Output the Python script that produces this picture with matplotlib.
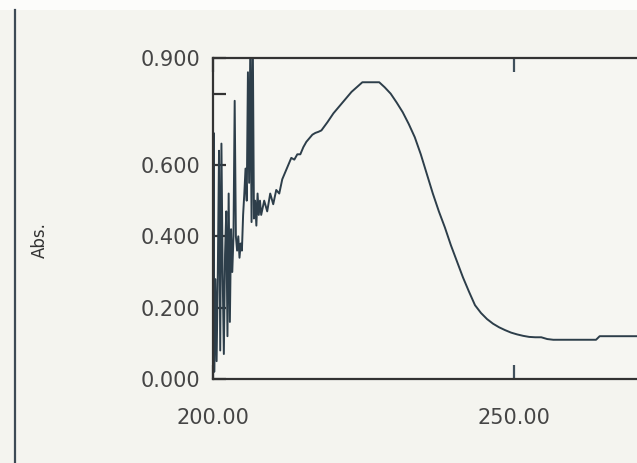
import matplotlib
matplotlib.use("Agg")
import matplotlib.pyplot as plt
from matplotlib.lines import Line2D
from matplotlib.patches import Rectangle

# Wavelength (nm) and absorbance
wavelength = [
    200.0, 200.1, 200.2, 200.4, 200.6, 200.8, 201.0, 201.2, 201.4, 201.6,
    201.8, 202.0, 202.2, 202.4, 202.6, 202.8, 203.0, 203.2, 203.4, 203.6,
    203.8, 204.0, 204.2, 204.4, 204.6, 204.8, 205.0, 205.2, 205.4, 205.6,
    205.8, 206.0, 206.2, 206.4, 206.6, 206.8, 207.0, 207.2, 207.4, 207.6,
    207.8, 208.0, 208.5, 209.0, 209.5, 210.0, 210.5, 211.0, 211.5, 212.0,
    212.5, 213.0, 213.5, 214.0, 214.5, 215.0, 215.5, 216.0, 216.5, 217.0,
    217.5, 218.0, 219.0, 220.0, 221.0, 222.0, 223.0, 224.0, 224.8, 226.0,
    227.6, 228.5, 229.5, 230.5, 231.5, 232.5, 233.5, 234.5, 235.5, 236.5,
    237.5, 238.5, 239.5, 240.5, 241.5, 242.5, 243.5, 244.5, 245.5, 246.5,
    247.5, 248.5, 249.5, 250.5, 251.5, 252.5, 253.5, 254.5, 255.5, 256.5,
    258.0, 260.0, 262.0, 263.6, 264.2, 266.0, 268.0, 270.5,
]
absorbance = [
    0.00, 0.69, 0.02, 0.28, 0.05, 0.30, 0.64, 0.08, 0.66, 0.30,
    0.07, 0.35, 0.47, 0.12, 0.52, 0.16, 0.42, 0.30, 0.40, 0.78,
    0.40, 0.36, 0.40, 0.34, 0.38, 0.36, 0.46, 0.52, 0.59, 0.50,
    0.86, 0.55, 0.95, 0.44, 0.97, 0.45, 0.50, 0.43, 0.52, 0.46,
    0.50, 0.46, 0.50, 0.47, 0.52, 0.49, 0.53, 0.52, 0.56, 0.58,
    0.60, 0.62, 0.615, 0.63, 0.63, 0.65, 0.665, 0.675, 0.685, 0.69,
    0.693, 0.697, 0.72, 0.745, 0.765, 0.785, 0.805, 0.82, 0.832, 0.832,
    0.832, 0.818, 0.800, 0.775, 0.748, 0.715, 0.678, 0.63, 0.575, 0.52,
    0.47, 0.425, 0.375, 0.33, 0.285, 0.245, 0.207, 0.185, 0.168, 0.155,
    0.145, 0.137, 0.130, 0.125, 0.121, 0.118, 0.117, 0.117, 0.112, 0.110,
    0.110, 0.110, 0.110, 0.110, 0.120, 0.120, 0.120, 0.120,
]

ytick_vals = [0.0, 0.2, 0.4, 0.6, 0.8, 0.9]
ytick_labels = ["0.000", "0.200", "0.400", "0.600", "", "0.900"]
xtick_vals = [200, 250]
xtick_labels = ["200.00", "250.00"]

W, H = 637, 463
fig = plt.figure(figsize=(W / 100, H / 100), dpi=100, facecolor="#f4f4ef")

# screen frame decorations from the photo
fig.patches.append(Rectangle((0, 1 - 10 / H), 1, 10 / H, transform=fig.transFigure,
                             facecolor="#fcfcfa", edgecolor="none", zorder=0))
fig.lines.append(Line2D([15 / W, 15 / W], [0, 1 - 10 / H], transform=fig.transFigure,
                        color="#3d4a55", lw=1.6))

ax = fig.add_axes([213 / W, 1 - 379 / H, (W - 213) / W, (379 - 58) / H])
ax.set_facecolor("#f6f6f2")
ax.plot(wavelength, absorbance, color="#2d3e4a", lw=1.4)
ax.set_xlim(200, 270.4)
ax.set_ylim(0, 0.9)

for s in ["left", "bottom", "top"]:
    ax.spines[s].set_color("#333333")
    ax.spines[s].set_linewidth(1.6)
ax.spines["right"].set_visible(False)

ax.set_yticks(ytick_vals)
ax.set_yticklabels(ytick_labels)
ax.set_xticks(xtick_vals)
ax.set_xticklabels(xtick_labels)
ax.tick_params(axis="y", direction="in", length=9, width=1.6, color="#333333",
               pad=9, labelsize=15, labelcolor="#454545")
ax.tick_params(axis="x", direction="in", length=10, width=1.6, color="#40505c",
               pad=21, labelsize=15, labelcolor="#454545", top=True)
for lab in ax.get_xticklabels() + ax.get_yticklabels():
    lab.set_family("DejaVu Sans")

fig.text(40 / W, 1 - 240 / H, "Abs.", rotation=90, ha="center", va="center",
         fontsize=12, color="#333333")

fig.savefig("out.png", dpi=100, facecolor=fig.get_facecolor())
